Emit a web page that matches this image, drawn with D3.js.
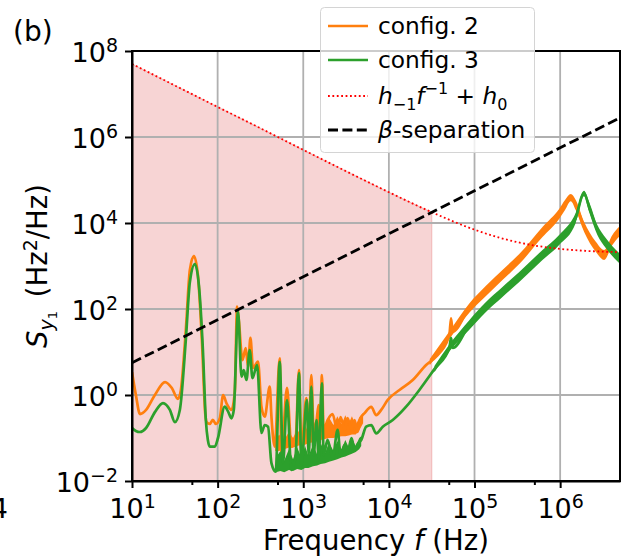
<!DOCTYPE html>
<html><head><meta charset="utf-8">
<script src="https://cdn.jsdelivr.net/npm/d3@7"></script>
<style>
body{margin:0;background:#fff}
svg{display:block;font-family:"DejaVu Sans",sans-serif}
</style>
</head><body>
<svg id="c" width="621" height="557"></svg>
<script>
// ---------- data ----------
// config. 2 (orange): [frequency Hz, S_y1 Hz^2/Hz]
const config2 = [
[10,3.4],[11.1,1.0],[12.4,0.36],[14.6,0.45],[18.5,1.0],[24.3,2.0],[29.2,1.45],[34.4,0.81],[37.2,1.3],
[42.5,32.5],[47.4,807],[52.8,1710],[58.8,618],[65.5,19],[71.9,0.343],[74.3,0.235],[81.1,0.212],[87.9,0.263],
[95.2,0.212],[106,0.29],[116,1.0],[127,0.64],[145,0.45],[158.6,1.19],[168.7,113],[176.6,55.5],[195,6.5],
[213,12.4],[226.7,4.55],[241.5,21.2],[259,4.25],[296,5.96],[325,0.535],[355,0.313],[406,1.56],[425,0.313],
[464,0.063],[531,7.1],[556,0.045],[646,1.46],[727,0.063],[815,0.09],[891,3.8],[950,0.053],[1087,0.85],
[1157,0.117],[1242,2.92],[1321,0.154],[1432,0.262],[1511,0.585],[1573,0.09],[1651,2.92],[1729,0.154],
[1923,0.262],[2201,0.36],[2518,0.138],[2729,0.308],[3040,0.154],[3290,0.29],[3664,0.154],[3970,0.262],
[4303,0.138],[4664,0.29],[5200,0.38],[6220,0.53],[7110,0.34],[8130,0.45],[9700,0.77],[13300,1.31],
[19000,2.23],[27200,4.99],[35600,7.8],[50800,24.8],[53200,60.8],[55600,29.7],[86900,105],[136000,262],
[212000,618],[333000,1455],[622000,6180],[973000,16200],[1140000,26200],[1330000,40300],[1520000,26200],
[1900000,8200],[2610000,2810],[3260000,1800],[4070000,4030],[4880000,6280]
];
// config. 3 (green)
const config3 = [
[10,0.171],[11.1,0.146],[12.4,0.138],[14.6,0.171],[18.5,0.40],[23,0.65],[27.7,0.45],[31.7,0.235],[36.2,0.45],
[42.5,19],[47.4,425],[54.2,1110],[60.4,361],[67.3,11.1],[72.8,0.262],[76.9,0.09],[81.1,0.063],[92.7,0.063],
[101,0.1],[121,0.535],[132.6,0.41],[145,0.287],[154.5,0.45],[173,86.5],[190,2.67],[202,3.81],[217,2.23],
[237,11.1],[255,2.48],[289,4.99],[325,0.131],[355,0.2],[388,0.183],[425,0.026],[477,0.0164],[531,5.94],
[580,0.026],[646,0.766],[727,0.018],[815,0.04],[891,3.25],[950,0.0236],[1104,0.766],[1157,0.04],[1242,1.56],
[1321,0.04],[1432,0.262],[1511,0.031],[1651,1.87],[1729,0.04],[1923,0.09],[2201,0.034],[2518,0.154],
[2729,0.04],[3040,0.069],[3290,0.047],[3664,0.1],[3970,0.053],[4303,0.072],[4750,0.09],[5430,0.183],
[6220,0.2],[7110,0.128],[8490,0.183],[11100,0.262],[15900,0.535],[22700,1.31],[34000,4.0],[50800,12.4],
[53200,21.2],[55600,12.4],[86900,42.5],[136000,111],[212000,248],[333000,555],[622000,1800],[973000,4030],
[1520000,13100],[1900000,49900],[2180000,23500],[2720000,6870],[3410000,3430],[4880000,1530]
];
// noise envelopes (dense noisy parts): [f, low, high]
const config2BandLow = [
[470,0.05,0.08],[520,0.05,0.12],[600,0.055,0.09],[680,0.06,0.14],[760,0.06,0.1],[850,0.065,0.16],
[950,0.07,0.11],[1050,0.07,0.2],[1150,0.075,0.13],[1300,0.08,0.22],[1450,0.085,0.15],[1600,0.09,0.26],
[1800,0.095,0.17],[2000,0.1,0.3],[2250,0.1,0.2],[2500,0.105,0.32],[2800,0.11,0.21],[3100,0.11,0.34],
[3400,0.115,0.22],[3700,0.12,0.32],[4100,0.12,0.2],[4500,0.15,0.3],[5000,0.22,0.38]
];
const config3BandLow = [
[480,0.016,0.035],[540,0.017,0.05],[600,0.016,0.03],[680,0.018,0.055],[760,0.017,0.032],[850,0.019,0.06],
[950,0.018,0.035],[1050,0.02,0.065],[1150,0.02,0.038],[1300,0.022,0.07],[1450,0.023,0.042],[1600,0.025,0.075],
[1800,0.026,0.045],[2000,0.028,0.08],[2250,0.03,0.05],[2500,0.032,0.085],[2800,0.035,0.055],[3100,0.037,0.09],
[3400,0.04,0.06],[3700,0.043,0.095],[4100,0.047,0.065],[4500,0.055,0.1],[4750,0.065,0.11]
];
const config2Band = [
[30000,4.9,6.9],[50800,20,30],[86900,82,134],[136000,200,345],[212000,470,810],[333000,1110,1900],
[622000,4700,8100],[973000,12400,21200],[1140000,20000,34300],[1330000,32000,47000],[1520000,20000,34300],
[1900000,6300,10700],[2610000,2150,3680],[3260000,1380,2360],[4070000,3080,5280],[4880000,4800,8200]
];
const config3Band = [
[34000,3.4,4.7],[50800,10.3,14.9],[86900,33,55],[136000,85,145],[212000,190,325],[333000,425,725],
[622000,1380,2360],[973000,3080,5280],[1520000,10000,17100],[1900000,42000,56000],[2180000,18000,30700],
[2720000,5250,9000],[3410000,2620,4490],[4880000,1170,2000]
];
// h_-1 f^-1 + h_0 (red dotted)
const noiseModel = [
[10,5e7],[31.6,1.58e7],[100,5e6],[316,1.6e6],[1000,5.02e5],[3160,1.6e5],[10000,5.2e4],[31700,1.78e4],
[100000,7000],[200000,4500],[500000,3000],[1000000,2500],[2000000,2250],[5000000,2100]
];
// beta-separation line (black dashed)
const betaSeparation = [[10,5.6],[5000000,2.8e6]];
const shadeLimit = 31700;

const xTicks = [1e1,1e2,1e3,1e4,1e5,1e6];
const xTickExp = ["1","2","3","4","5","6"];
const xMinorTicks = [50,500,5000,50000,500000];
const yTicks = [1e-2,1e0,1e2,1e4,1e6,1e8];
const yTickExp = ["\u22122","0","2","4","6","8"];
const legendLabels = ["config. 2","config. 3","h_{-1}f^{-1}+h_0","\u03b2-separation"];

// ---------- drawing ----------
const svg = d3.select("#c");
const L=132, R=620, T=51, B=481;
const x = d3.scaleLog().domain([10,5e6]).range([L,R]);
const y = d3.scaleLog().domain([1e-2,1e8]).range([B,T]);
const FS = 27, SFS = 19;

svg.append("defs").append("clipPath").attr("id","clip")
  .append("rect").attr("x",L).attr("y",T).attr("width",R-L).attr("height",B-T);
const plot = svg.append("g").attr("clip-path","url(#clip)");

// shaded region under the noise model
const shade = noiseModel.filter(d=>d[0]<=shadeLimit);
plot.append("path").datum(shade)
  .attr("d", d3.area().x(d=>x(d[0])).y0(B+10).y1(d=>y(d[1])).curve(d3.curveMonotoneX))
  .attr("fill","rgba(214,39,40,0.2)").attr("stroke","rgba(214,39,40,0.2)").attr("stroke-width",1.2);

// grid
plot.selectAll(".gx").data(xTicks).enter().append("line")
  .attr("x1",d=>x(d)).attr("x2",d=>x(d)).attr("y1",T).attr("y2",B)
  .attr("stroke","#b0b0b0").attr("stroke-width",1.8);
plot.selectAll(".gy").data(yTicks).enter().append("line")
  .attr("y1",d=>y(d)).attr("y2",d=>y(d)).attr("x1",L).attr("x2",R)
  .attr("stroke","#b0b0b0").attr("stroke-width",1.8);

const line = d3.line().x(d=>x(d[0])).y(d=>y(d[1])).curve(d3.curveMonotoneX);
const band = d3.area().x(d=>x(d[0])).y0(d=>y(d[1])).y1(d=>y(d[2])).curve(d3.curveMonotoneX);
const bandLin = d3.area().x(d=>x(d[0])).y0(d=>y(d[1])).y1(d=>y(d[2]));

const C2="#ff7f0e", C3="#2ca02c";
plot.append("path").datum(config2BandLow).attr("d",bandLin).attr("fill",C2);
plot.append("path").datum(config2Band).attr("d",band).attr("fill",C2);
plot.append("path").datum(config2).attr("d",line).attr("fill","none").attr("stroke",C2)
  .attr("stroke-width",2.7).attr("stroke-linejoin","round");
plot.append("path").datum(config3BandLow).attr("d",bandLin).attr("fill",C3);
plot.append("path").datum(config3Band).attr("d",band).attr("fill",C3);
plot.append("path").datum(config3).attr("d",line).attr("fill","none").attr("stroke",C3)
  .attr("stroke-width",2.7).attr("stroke-linejoin","round");

plot.append("path").datum(noiseModel).attr("d",line).attr("fill","none").attr("stroke","red")
  .attr("stroke-width",1.8).attr("stroke-dasharray","1.8,2.6");
plot.append("path").datum(betaSeparation).attr("d",line).attr("fill","none").attr("stroke","black")
  .attr("stroke-width",2.8).attr("stroke-dasharray","10,4.4");

// axes
function supLabel(sel, base, exp){
  sel.text(null);
  sel.append("tspan").text(base);
  sel.append("tspan").attr("font-size",SFS).attr("dy",-10).text(exp);
}
const xAxis = svg.append("g").attr("transform",`translate(0,${B})`)
  .call(d3.axisBottom(x).tickValues(xTicks).tickFormat(()=>"" ).tickSize(7).tickSizeOuter(0));
xAxis.selectAll(".tick text").each(function(d,i){
  const t=d3.select(this).attr("y",null).attr("dy",null).attr("font-size",FS).attr("fill","#000")
    .attr("font-family","DejaVu Sans").attr("text-anchor","middle");
  t.attr("transform",`translate(0,37)`);
  supLabel(t,"10",xTickExp[i]);
});
svg.append("g").attr("transform",`translate(0,${B})`)
  .call(d3.axisBottom(x).tickValues(xMinorTicks).tickFormat(()=>"").tickSize(4).tickSizeOuter(0))
  .call(g=>g.select(".domain").remove())
  .selectAll("line").attr("stroke-width",1.5);
const yAxis = svg.append("g").attr("transform",`translate(${L},0)`)
  .call(d3.axisLeft(y).tickValues(yTicks).tickFormat(()=>"").tickSize(7).tickSizeOuter(0));
yAxis.selectAll(".tick text").each(function(d,i){
  const t=d3.select(this).attr("x",null).attr("dy",null).attr("font-size",FS).attr("fill","#000")
    .attr("font-family","DejaVu Sans").attr("text-anchor","end");
  t.attr("transform",`translate(-14,10)`);
  supLabel(t,"10",yTickExp[i]);
});
svg.selectAll(".tick line").attr("stroke-width",2);
svg.selectAll(".domain").attr("stroke-width",2);
// spines
svg.append("rect").attr("x",L).attr("y",T).attr("width",R-L).attr("height",B-T)
  .attr("fill","none").attr("stroke","#000").attr("stroke-width",2);

// axis labels
const xl = svg.append("text").attr("x",(L+R)/2).attr("y",550).attr("text-anchor","middle").attr("font-size",27.5);
xl.append("tspan").text("Frequency ");
xl.append("tspan").attr("font-style","italic").text("f");
xl.append("tspan").text(" (Hz)");

const yl = svg.append("text").attr("transform",`translate(47,${(T+B)/2}) rotate(-90)`)
  .attr("text-anchor","middle").attr("font-size",27.5);
yl.append("tspan").attr("font-style","italic").text("S");
yl.append("tspan").attr("font-style","italic").attr("font-size",19).attr("dy",6).text("y");
yl.append("tspan").attr("font-size",13).attr("dy",4).text("1");
yl.append("tspan").attr("dy",-10).text("\u2002(Hz");
yl.append("tspan").attr("font-size",19).attr("dy",-10).text("2");
yl.append("tspan").attr("dy",10).text("/Hz)");

svg.append("text").attr("x",13).attr("y",41).attr("font-size",28).text("(b)");
svg.append("text").attr("x",8).attr("y",518).attr("text-anchor","end").attr("font-size",FS).text("4");

// legend
const lg = svg.append("g");
lg.append("rect").attr("x",320.5).attr("y",7.5).attr("width",214).attr("height",145).attr("rx",4)
  .attr("fill","white").attr("fill-opacity",0.8).attr("stroke","#d4d4d4").attr("stroke-width",1);
const rows = [
  {stroke:C2, w:2.7, dash:null, yb:34},
  {stroke:C3, w:2.7, dash:null, yb:68},
  {stroke:"red", w:1.8, dash:"1.8,2.6", yb:104},
  {stroke:"black", w:2.8, dash:"10,4.4", yb:138}
];
const LFS = 23.3;
rows.forEach((r,i)=>{
  lg.append("line").attr("x1",328).attr("x2",368).attr("y1",r.yb-8).attr("y2",r.yb-8)
    .attr("stroke",r.stroke).attr("stroke-width",r.w).attr("stroke-dasharray",r.dash);
  const t = lg.append("text").attr("x",378).attr("y",r.yb).attr("font-size",LFS);
  if(i<2){ t.text(legendLabels[i]); }
  else if(i===2){
    t.append("tspan").attr("font-style","italic").text("h");
    t.append("tspan").attr("font-size",16).attr("dy",6).text("\u22121");
    t.append("tspan").attr("font-style","italic").attr("dy",-6).text("f");
    t.append("tspan").attr("font-size",16).attr("dy",-10).text("\u22121");
    t.append("tspan").attr("dy",10).text(" + ");
    t.append("tspan").attr("font-style","italic").text("h");
    t.append("tspan").attr("font-size",16).attr("dy",6).text("0");
  } else {
    t.append("tspan").attr("font-style","italic").text("\u03b2");
    t.append("tspan").text("-separation");
  }
});
</script>
</body></html>
